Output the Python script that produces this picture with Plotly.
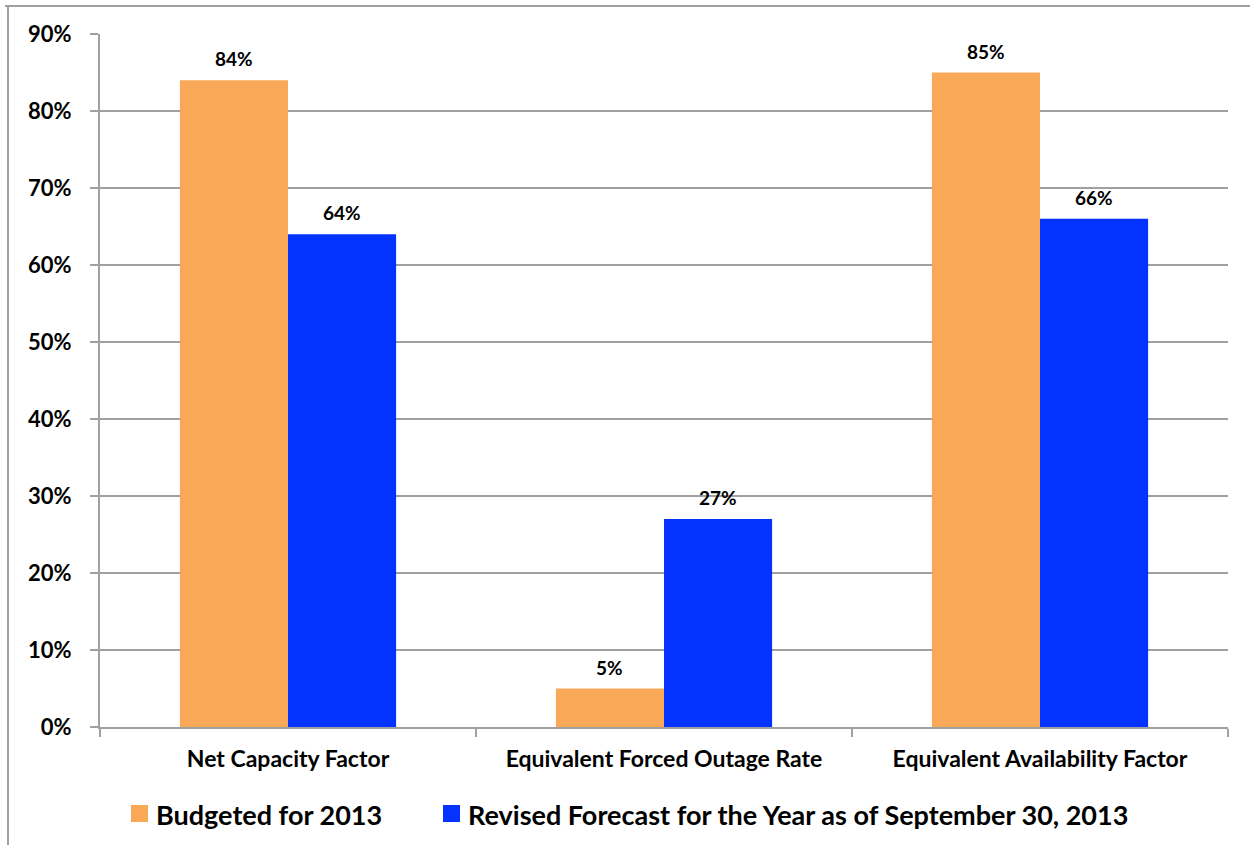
import plotly.graph_objects as go

# Plant performance indicators
categories = ["Net Capacity Factor", "Equivalent Forced Outage Rate", "Equivalent Availability Factor"]
budgeted = [84, 5, 85]
revised = [64, 27, 66]
series_names = ["Budgeted for 2013", "Revised Forecast for the Year as of September 30, 2013"]
series_colors = ["#F9A857", "#0433FF"]

W, H = 1250, 845
L, R, T, B = 100, 22, 34, 118
FONT = "Lato, 'Open Sans', sans-serif"
GRID = "#a0a0a0"
BARGAP = 0.425

# pixel helpers for paper-referenced decorations
def px_x(p):
    return (p - L) / (W - L - R)

def px_y(p):
    return (H - B - p) / (H - T - B)

cat_px = (W - L - R) / len(categories)
bar_px = cat_px * (1 - BARGAP) / 2

fig = go.Figure()
for i, (name, vals, color) in enumerate(zip(series_names, [budgeted, revised], series_colors)):
    fig.add_trace(go.Bar(
        x=categories, y=vals, name=name,
        marker=dict(color=color, line=dict(width=0)),
        showlegend=False,
    ))
    # value labels above each bar
    shift = (i - 0.5) * bar_px
    for c, v in zip(categories, vals):
        fig.add_annotation(x=c, y=v, text=f"<b>{v}%</b>", showarrow=False,
                           xshift=shift, yshift=8, yanchor="bottom",
                           font=dict(family=FONT, size=19, color="black"))

# legend: coloured squares with labels beneath the plot
legend_x = [131, 443]
for name, color, x0 in zip(series_names, series_colors, legend_x):
    fig.add_shape(type="rect", xref="paper", yref="paper",
                  x0=px_x(x0), x1=px_x(x0 + 17), y0=px_y(822), y1=px_y(805),
                  fillcolor=color, line=dict(width=0))
    fig.add_annotation(xref="paper", yref="paper", x=px_x(x0 + 23), y=px_y(814),
                       xanchor="left", yanchor="middle", showarrow=False,
                       text=f"<b>{name}</b>",
                       font=dict(family=FONT, size=27, color="black"))

# outer frame lines around the chart area
fig.add_shape(type="line", xref="paper", yref="paper",
              x0=px_x(5), x1=px_x(1250), y0=px_y(6), y1=px_y(6),
              line=dict(color=GRID, width=2))
fig.add_shape(type="line", xref="paper", yref="paper",
              x0=px_x(8), x1=px_x(8), y0=px_y(6), y1=px_y(845),
              line=dict(color=GRID, width=2))

fig.update_layout(
    width=W, height=H,
    margin=dict(l=L, r=R, t=T, b=B, autoexpand=False),
    paper_bgcolor="white", plot_bgcolor="white",
    barmode="group", bargap=BARGAP, bargroupgap=0,
    font=dict(family=FONT, color="black"),
    showlegend=False,
    xaxis=dict(showline=True, linecolor=GRID, linewidth=2,
               ticks="outside", tickson="boundaries", ticklen=8, tickcolor=GRID, tickwidth=2,
               tickfont=dict(family=FONT, size=23, color="black", weight="bold"),
               ticklabelstandoff=10),
    yaxis=dict(range=[0, 90], dtick=10, ticksuffix="%",
               showline=True, linecolor=GRID, linewidth=2,
               ticks="outside", ticklen=8, tickcolor=GRID, tickwidth=2,
               showgrid=True, gridcolor=GRID, gridwidth=2, zeroline=False,
               tickfont=dict(family=FONT, size=22, color="black", weight="bold"),
               ticklabelstandoff=14),
)

fig.write_html("out.html")
